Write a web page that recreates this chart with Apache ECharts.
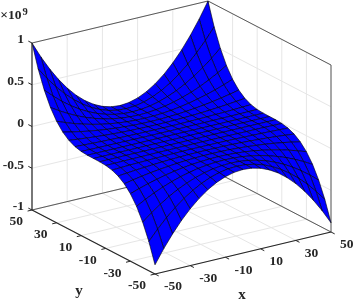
<!DOCTYPE html>
<html>
<head>
<meta charset="utf-8">
<style>html,body{margin:0;padding:0;background:#fff}#c{width:357px;height:303px}</style>
<script src="https://cdn.jsdelivr.net/npm/echarts@6/dist/echarts.min.js"></script>
</head>
<body>
<div id="c"></div>
<script>
// Mesh coordinates
var meshX = [-50,-45,-40,-35,-30,-25,-20,-15,-10,-5,0,5,10,15,20,25,30,35,40,45,50];
var meshY = [50,45,40,35,30,25,20,15,10,5,0,-5,-10,-15,-20,-25,-30,-35,-40,-45,-50];
// z (in units of 10^9): one row per meshY value, one column per meshX value
var meshZ = [
[1.000,.810,.640,.490,.360,.250,.160,.090,.040,.010,0,.010,.040,.090,.160,.250,.360,.490,.640,.810,1.000],
[.729,.590,.467,.357,.262,.182,.117,.066,.029,.007,0,.007,.029,.066,.117,.182,.262,.357,.467,.590,.729],
[.512,.415,.328,.251,.184,.128,.082,.046,.020,.005,0,.005,.020,.046,.082,.128,.184,.251,.328,.415,.512],
[.343,.278,.220,.168,.123,.086,.055,.031,.014,.003,0,.003,.014,.031,.055,.086,.123,.168,.220,.278,.343],
[.216,.175,.138,.106,.078,.054,.035,.019,.009,.002,0,.002,.009,.019,.035,.054,.078,.106,.138,.175,.216],
[.125,.101,.080,.061,.045,.031,.020,.011,.005,.001,0,.001,.005,.011,.020,.031,.045,.061,.080,.101,.125],
[.064,.052,.041,.031,.023,.016,.010,.006,.003,.001,0,.001,.003,.006,.010,.016,.023,.031,.041,.052,.064],
[.027,.022,.017,.013,.010,.007,.004,.002,.001,0,0,0,.001,.002,.004,.007,.010,.013,.017,.022,.027],
[.008,.006,.005,.004,.003,.002,.001,.001,0,0,0,0,0,.001,.001,.002,.003,.004,.005,.006,.008],
[.001,.001,.001,0,0,0,0,0,0,0,0,0,0,0,0,0,0,0,.001,.001,.001],
[0,0,0,0,0,0,0,0,0,0,0,0,0,0,0,0,0,0,0,0,0],
[-.001,-.001,-.001,0,0,0,0,0,0,0,0,0,0,0,0,0,0,0,-.001,-.001,-.001],
[-.007,-.006,-.004,-.003,-.003,-.002,-.001,-.001,0,0,0,0,0,-.001,-.001,-.002,-.003,-.003,-.004,-.006,-.007],
[-.024,-.019,-.015,-.012,-.009,-.006,-.004,-.002,-.001,0,0,0,-.001,-.002,-.004,-.006,-.009,-.012,-.015,-.019,-.024],
[-.057,-.046,-.036,-.028,-.021,-.014,-.009,-.005,-.002,-.001,0,-.001,-.002,-.005,-.009,-.014,-.021,-.028,-.036,-.046,-.057],
[-.111,-.090,-.071,-.054,-.040,-.028,-.018,-.010,-.004,-.001,0,-.001,-.004,-.010,-.018,-.028,-.040,-.054,-.071,-.090,-.111],
[-.192,-.156,-.123,-.094,-.069,-.048,-.031,-.017,-.008,-.002,0,-.002,-.008,-.017,-.031,-.048,-.069,-.094,-.123,-.156,-.192],
[-.305,-.247,-.195,-.149,-.110,-.076,-.049,-.027,-.012,-.003,0,-.003,-.012,-.027,-.049,-.076,-.110,-.149,-.195,-.247,-.305],
[-.456,-.369,-.292,-.223,-.164,-.114,-.073,-.041,-.018,-.005,0,-.005,-.018,-.041,-.073,-.114,-.164,-.223,-.292,-.369,-.456],
[-.649,-.526,-.415,-.318,-.234,-.162,-.104,-.058,-.026,-.006,0,-.006,-.026,-.058,-.104,-.162,-.234,-.318,-.415,-.526,-.649],
[-.890,-.721,-.570,-.436,-.320,-.223,-.142,-.080,-.036,-.009,0,-.009,-.036,-.080,-.142,-.223,-.320,-.436,-.570,-.721,-.890]
];
// Tick labels
var xTicks = [-50,-30,-10,10,30,50];
var yTicks = [50,30,10,-10,-30,-50];
var zTicks = [1,0.5,0,-0.5,-1];
var xName = 'x', yName = 'y';

// Oblique view of the box, in screen-sized units around the box centre
function project(x, y, z) {
  return [1.76 * x - 1.23 * y, 0.42 * x + 0.64 * y + 83.5 * z];
}

var INK = '#262626';
var SERIF = 'Liberation Serif';
var styles = {
  grid: {stroke: '#e6e6e6', lineWidth: 1},
  box: {stroke: '#5a5a5a', lineWidth: 1},
  axis: {stroke: '#262626', lineWidth: 1.2},
  tick: {stroke: '#262626', lineWidth: 1}
};

function seg(list, kind, a, b) { list.push([a[0], a[1], a[2], b[0], b[1], b[2], kind]); }

var wallSegs = [], axisSegs = [];
xTicks.forEach(function (x) {
  seg(wallSegs, 'grid', [x, 50, -1], [x, 50, 1]);
  seg(wallSegs, 'grid', [x, -50, -1], [x, 50, -1]);
  seg(axisSegs, 'tick', [x, -50, -1], [x, -53, -1]);
});
yTicks.forEach(function (y) {
  seg(wallSegs, 'grid', [50, y, -1], [50, y, 1]);
  seg(wallSegs, 'grid', [-50, y, -1], [50, y, -1]);
  seg(axisSegs, 'tick', [-50, y, -1], [-52.5, y, -1]);
});
zTicks.forEach(function (z) {
  seg(wallSegs, 'grid', [-50, 50, z], [50, 50, z]);
  seg(wallSegs, 'grid', [50, -50, z], [50, 50, z]);
  seg(axisSegs, 'tick', [-50, 50, z], [-50, 53, z]);
});
seg(wallSegs, 'box', [-50, 50, 1], [50, 50, 1]);
seg(wallSegs, 'box', [50, 50, 1], [50, -50, 1]);
seg(wallSegs, 'box', [50, -50, -1], [50, -50, 1]);
seg(wallSegs, 'box', [50, 50, -1], [50, 50, 1]);
seg(wallSegs, 'box', [-50, 50, -1], [50, 50, -1]);
seg(wallSegs, 'box', [50, 50, -1], [50, -50, -1]);
seg(axisSegs, 'axis', [-50, 50, -1], [-50, 50, 1]);
seg(axisSegs, 'axis', [-50, 50, -1], [-50, -50, -1]);
seg(axisSegs, 'axis', [-50, -50, -1], [50, -50, -1]);

// Mesh cells, far corner first so nearer cells paint over farther ones
var cells = [];
for (var j = 0; j < meshY.length - 1; j++) {
  for (var i = meshX.length - 2; i >= 0; i--) cells.push([i, j]);
}

// Labels: [x, y, z, text, dx, dy, align, size]
var labels = [];
xTicks.forEach(function (x) { labels.push([x, -50, -1, String(x), 9, 13, 'left', 13.5]); });
yTicks.forEach(function (y) { labels.push([-50, y, -1, String(y), -9, 12, 'right', 13.5]); });
zTicks.forEach(function (z) { labels.push([-50, 50, z, String(z), -8, -3, 'right', 13.5]); });
labels.push([0, -50, -1, xName, -1, 42, 'center', 15]);
labels.push([-50, 0, -1, yName, -14.5, 49, 'center', 15]);

function at(api, p) { return api.coord(project(p[0], p[1], p[2])); }

function renderSeg(params, api) {
  var a = at(api, [api.value(0), api.value(1), api.value(2)]);
  var b = at(api, [api.value(3), api.value(4), api.value(5)]);
  return {type: 'line', silent: true, shape: {x1: a[0], y1: a[1], x2: b[0], y2: b[1]},
          style: styles[api.value(6)]};
}

function renderCell(params, api) {
  var i = api.value(0), j = api.value(1);
  var pts = [[i, j], [i + 1, j], [i + 1, j + 1], [i, j + 1]].map(function (c) {
    return at(api, [meshX[c[0]], meshY[c[1]], meshZ[c[1]][c[0]]]);
  });
  return {type: 'polygon', silent: true, shape: {points: pts},
          style: {fill: '#0000ff', stroke: '#000000', lineWidth: 0.6, lineJoin: 'round'}};
}

function renderLabel(params, api) {
  var p = at(api, [api.value(0), api.value(1), api.value(2)]);
  return {type: 'text', silent: true, x: p[0] + api.value(4), y: p[1] + api.value(5),
          style: {text: api.value(3), fontFamily: SERIF, fontWeight: 'bold', fontSize: api.value(7),
                  fill: INK, align: api.value(6), verticalAlign: 'middle'}};
}

var chart = echarts.init(document.getElementById('c'), null, {renderer: 'canvas'});
chart.setOption({
  animation: false,
  backgroundColor: '#ffffff',
  grid: {left: 0, right: 0, top: 0, bottom: 0},
  xAxis: {type: 'value', min: -181.5, max: 175.5, show: false},
  yAxis: {type: 'value', min: -165.5, max: 137.5, show: false},
  tooltip: {show: false},
  series: [
    {type: 'custom', name: 'walls', data: wallSegs, renderItem: renderSeg, progressive: 0, clip: false,
     dimensions: ['a','b','c','d','e','f',{name:'kind',type:'ordinal'}]},
    {type: 'custom', name: 'surface', data: cells, renderItem: renderCell, progressive: 0, clip: false},
    {type: 'custom', name: 'axes', data: axisSegs, renderItem: renderSeg, progressive: 0, clip: false,
     dimensions: ['a','b','c','d','e','f',{name:'kind',type:'ordinal'}]},
    {type: 'custom', name: 'labels', data: labels, renderItem: renderLabel, progressive: 0, clip: false,
     dimensions: ['a','b','c',{name:'t',type:'ordinal'},'dx','dy',{name:'al',type:'ordinal'},'size']}
  ],
  graphic: [
    {type: 'text', x: 21.5, y: 16, silent: true,
     style: {text: '×10', fontFamily: SERIF, fontWeight: 'bold', fontSize: 13.5, fill: INK, align: 'right', verticalAlign: 'middle'}},
    {type: 'text', x: 22.5, y: 12, silent: true,
     style: {text: '9', fontFamily: SERIF, fontWeight: 'bold', fontSize: 10.5, fill: INK, align: 'left', verticalAlign: 'middle'}}
  ]
});
</script>
</body>
</html>
